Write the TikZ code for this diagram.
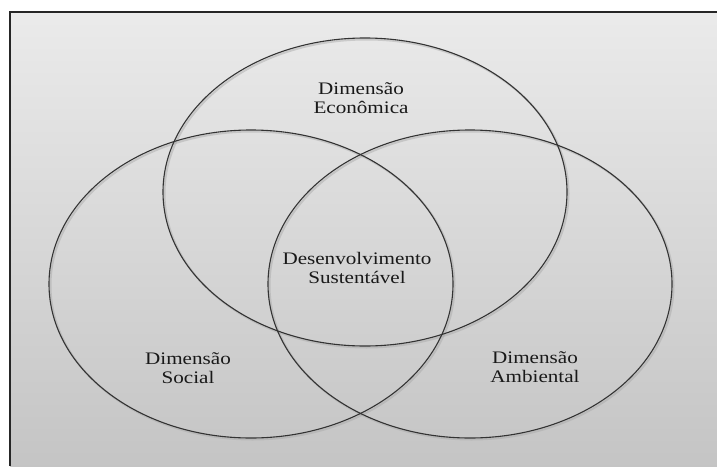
\documentclass[tikz,border=0pt]{standalone}
\usepackage{fontspec}
\setmainfont{Liberation Serif}[FakeStretch=1.2]
\begin{document}
\begin{tikzpicture}[x=1pt,y=-1pt,
  ring/.style={draw=black!80, line width=1.1pt},
  ringshadow/.style={draw=black!35, line width=2pt, opacity=0.45},
  lbl/.style={align=center, text=black!90, inner sep=0pt,
    font=\fontsize{17.6}{19.3}\selectfont}]
\useasboundingbox (0,0) rectangle (717,466);
\fill[white] (0,0) rectangle (717,466);
\shade[top color=black!8, bottom color=black!23] (10,12) rectangle (717,466);
\draw[black!85, line width=1.4pt] (10,466) -- (10,12) -- (717,12);
% shadows
\draw[ringshadow] (366.5,193.5) ellipse [x radius=202pt, y radius=154pt];
\draw[ringshadow] (252.5,285.5) ellipse [x radius=202pt, y radius=154pt];
\draw[ringshadow] (471.5,285.5) ellipse [x radius=202pt, y radius=154pt];
% rings
\draw[ring] (365,192) ellipse [x radius=202pt, y radius=154pt];
\draw[ring] (251,284) ellipse [x radius=202pt, y radius=154pt];
\draw[ring] (470,284) ellipse [x radius=202pt, y radius=154pt];
% labels
\node[lbl] (eco) at (361,98) {Dimensão\\Econômica};
\node[lbl] (des) at (357,268) {Desenvolvimento\\Sustentável};
\node[lbl] (soc) at (188,368) {Dimensão\\Social};
\node[lbl] (amb) at (535,367) {Dimensão\\Ambiental};
\end{tikzpicture}
\end{document}
